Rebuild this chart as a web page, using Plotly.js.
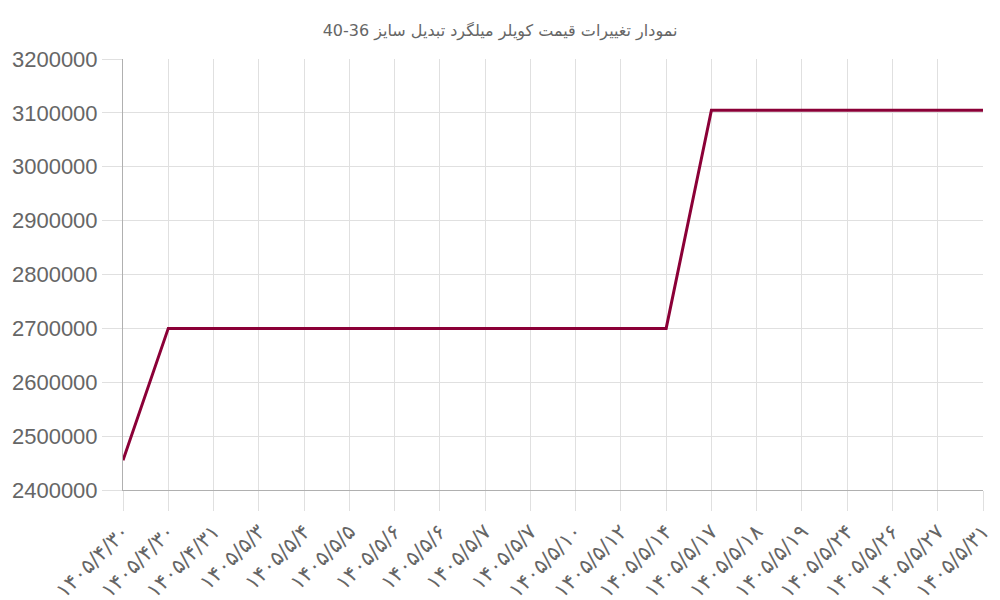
<!DOCTYPE html>
<html>
<head>
<meta charset="utf-8">
<script src="https://cdn.plot.ly/plotly-3.0.1.min.js"></script>
<style>
    html, body { margin: 0; padding: 0; background: #fff; }
    #priceChart { width: 1000px; height: 600px; }
</style>
</head>
<body>
<div id="priceChart"></div>
<script>
const dateLabels = [
    "۱۴۰۵/۴/۳۰", "۱۴۰۵/۴/۳۰", "۱۴۰۵/۴/۳۱", "۱۴۰۵/۵/۳", "۱۴۰۵/۵/۴",
    "۱۴۰۵/۵/۵", "۱۴۰۵/۵/۶", "۱۴۰۵/۵/۶", "۱۴۰۵/۵/۷", "۱۴۰۵/۵/۷",
    "۱۴۰۵/۵/۱۰", "۱۴۰۵/۵/۱۲", "۱۴۰۵/۵/۱۴", "۱۴۰۵/۵/۱۷", "۱۴۰۵/۵/۱۸",
    "۱۴۰۵/۵/۱۹", "۱۴۰۵/۵/۲۴", "۱۴۰۵/۵/۲۶", "۱۴۰۵/۵/۲۷", "۱۴۰۵/۵/۳۱"
];
const prices = [
    2455000, 2700000, 2700000, 2700000, 2700000,
    2700000, 2700000, 2700000, 2700000, 2700000,
    2700000, 2700000, 2700000, 3105000, 3105000,
    3105000, 3105000, 3105000, 3105000, 3105000
];
const chartTitle = "نمودار تغییرات قیمت کویلر میلگرد تبدیل سایز 36-40";

document.addEventListener("DOMContentLoaded", function () {
    // labels repeat, so plot by index and put the dates on as tick text
    const idx = dateLabels.map((d, i) => i);

    const data = [{
        type: "scatter",
        mode: "lines",
        x: idx,
        y: prices,
        line: {color: "#8b0037", width: 3},
        hoverinfo: "skip"
    }];

    const layout = {
        width: 1000,
        height: 600,
        margin: {l: 123, r: 17, t: 59, b: 110},
        paper_bgcolor: "#fff",
        plot_bgcolor: "#fff",
        showlegend: false,
        title: {
            text: chartTitle,
            x: 0.5,
            y: 0.95,
            xanchor: "center",
            yanchor: "middle",
            font: {family: "DejaVu Sans", size: 16, color: "#666"}
        },
        xaxis: {
            range: [0, 19],
            tickmode: "array",
            tickvals: idx,
            ticktext: dateLabels,
            tickangle: -45,
            ticks: "outside",
            ticklen: 20,
            tickcolor: "#e0e0e0",
            showgrid: true,
            gridcolor: "#e0e0e0",
            showline: true,
            linecolor: "#b0b0b0",
            zeroline: false,
            tickfont: {family: "DejaVu Sans", size: 21, color: "#666"}
        },
        yaxis: {
            range: [2400000, 3200000],
            dtick: 100000,
            tick0: 2400000,
            tickformat: "d",
            ticks: "outside",
            ticklen: 20,
            tickcolor: "#e0e0e0",
            showgrid: true,
            gridcolor: "#e0e0e0",
            showline: true,
            linecolor: "#b0b0b0",
            zeroline: false,
            tickfont: {family: "Liberation Sans", size: 22, color: "#666"}
        }
    };

    Plotly.newPlot("priceChart", data, layout, {displayModeBar: false, staticPlot: true});
});
</script>
</body>
</html>
